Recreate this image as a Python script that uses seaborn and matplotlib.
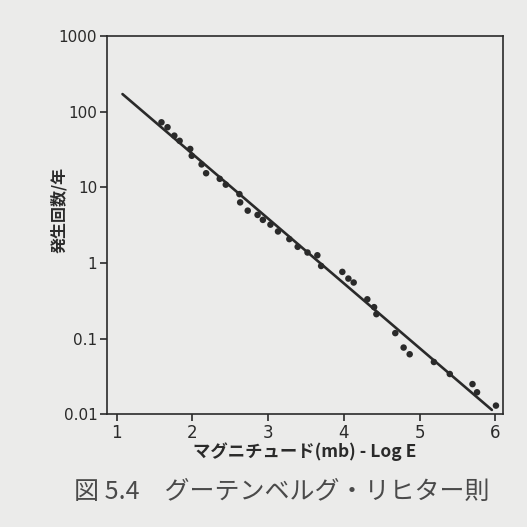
import matplotlib
matplotlib.use("Agg")
import matplotlib.pyplot as plt
import seaborn as sns
import pandas as pd

# Observed data (magnitude, annual frequency)
magnitude = [1.59, 1.67, 1.76, 1.83, 1.97, 1.99, 2.12, 2.18, 2.36, 2.44,
             2.62, 2.63, 2.73, 2.86, 2.93, 3.03, 3.13, 3.28, 3.39, 3.52,
             3.65, 3.70, 3.98, 4.06, 4.13, 4.31, 4.40, 4.43, 4.68, 4.79,
             4.87, 5.19, 5.40, 5.70, 5.76, 6.01]
frequency = [72, 62, 48, 41, 32, 26, 20, 15.3, 12.9, 10.8,
             8.1, 6.3, 4.9, 4.3, 3.7, 3.2, 2.6, 2.06, 1.63, 1.37,
             1.26, 0.91, 0.76, 0.62, 0.55, 0.33, 0.26, 0.21, 0.118, 0.076,
             0.062, 0.049, 0.034, 0.025, 0.0195, 0.013]

# Gutenberg-Richter fitted line (end points)
fit_x = [1.075, 5.956]
fit_y = [170, 0.0114]

x_ticks = [1, 2, 3, 4, 5, 6]
y_ticks = [0.01, 0.1, 1, 10, 100, 1000]
y_tick_labels = ["0.01", "0.1", "1", "10", "100", "1000"]

sns.set_style("white")
plt.rcParams["font.family"] = ["Noto Sans CJK JP", "DejaVu Sans"]

bg = "#ebebea"
ink = "#2a2a2a"

fig = plt.figure(figsize=(5.27, 5.27), dpi=100, facecolor=bg)
ax = fig.add_axes([0.203, 0.214, 0.751, 0.718])
ax.set_facecolor(bg)

pts = pd.DataFrame({"m": magnitude, "f": frequency})
line = pd.DataFrame({"m": fit_x, "f": fit_y})

sns.lineplot(data=line, x="m", y="f", ax=ax, color=ink, linewidth=1.9)
sns.scatterplot(data=pts, x="m", y="f", ax=ax, color=ink, s=22,
                edgecolor="none", zorder=3)

ax.set_yscale("log")
ax.set_xlim(0.87, 6.1)
ax.set_ylim(0.01, 1000)
ax.set_xticks(x_ticks)
ax.set_xticklabels([str(t) for t in x_ticks], fontsize=12, color=ink,
                   family="DejaVu Sans")
ax.set_yticks(y_ticks)
ax.set_yticklabels(y_tick_labels, fontsize=11, color=ink,
                   family="DejaVu Sans")
ax.minorticks_off()
ax.tick_params(axis="both", direction="out", length=5, width=1.2,
               color=ink, left=True, bottom=True, pad=2)

for s in ax.spines.values():
    s.set_color(ink)
    s.set_linewidth(1.2)

ax.set_xlabel("マグニチュード(mb) - Log E", fontsize=12.5, color=ink,
              labelpad=0, fontweight="bold")
ax.set_ylabel("発生回数/年", fontsize=11.5, color=ink, fontweight="bold")
ax.yaxis.set_label_coords(-0.10, 0.54)

fig.text(0.535, 0.066, "図 5.4　グーテンベルグ・リヒター則",
         ha="center", va="center", fontsize=18, color="#4a4a4a")

fig.savefig("out.png", dpi=100, facecolor=bg)
